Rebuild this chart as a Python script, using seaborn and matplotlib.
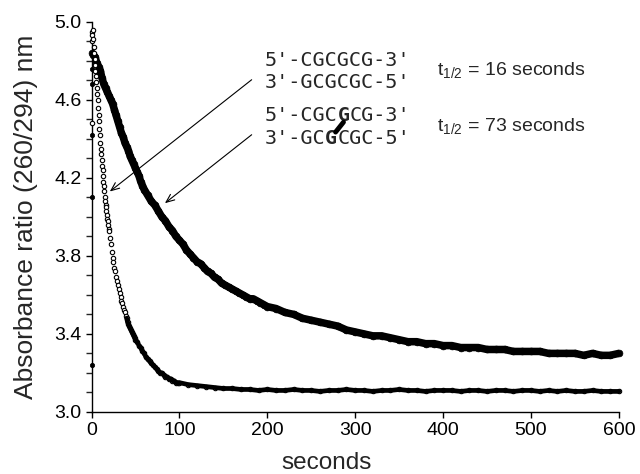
import pandas as pd
import seaborn as sns
import matplotlib.pyplot as plt
from matplotlib.transforms import offset_copy

# 5'-CGCGCG-3' duplex (open circles), t1/2 = 16 s
fast_t = [0.0, 0.5, 1.0, 1.5, 2.0, 2.5, 3.0, 3.5, 4.0, 4.5,
          5.0, 5.5, 6.0, 6.5, 7.0, 7.5, 8.0, 8.5, 9.0, 9.5,
          10.0, 10.5, 11.0, 11.5, 12.0, 12.5, 13.0, 13.5, 14.0, 14.5,
          15.0, 15.5, 16.0, 16.5, 17.0, 17.5, 18.0, 18.5, 19.0, 19.5,
          20, 21, 22, 23, 24, 25, 26, 27, 28, 29,
          30, 31, 32, 33, 34, 35, 36, 37, 38, 39,
          40, 41, 42, 43, 44, 45, 46, 47, 48, 49, 50,
          52, 54, 56, 58, 60, 62, 64, 66, 68, 70,
          72, 74, 76, 78, 80, 82, 84, 86, 88, 90,
          92, 94, 96, 98, 100,
          110, 120, 130, 140, 150, 160, 170, 180, 190, 200,
          210, 220, 230, 240, 250, 260, 270, 280, 290, 300,
          310, 320, 330, 340, 350, 360, 370, 380, 390, 400,
          410, 420, 430, 440, 450, 460, 470, 480, 490, 500,
          510, 520, 530, 540, 550, 560, 570, 580, 590, 600]
fast_a = [4.90, 4.95, 4.93, 4.96, 4.91, 4.87, 4.84, 4.81, 4.78, 4.75,
          4.72, 4.69, 4.66, 4.63, 4.60, 4.56, 4.52, 4.49, 4.45, 4.42,
          4.38, 4.35, 4.32, 4.29, 4.26, 4.24, 4.21, 4.18, 4.16, 4.13,
          4.10, 4.08, 4.06, 4.05, 4.03, 4.01, 3.99, 3.98, 3.96, 3.94,
          3.93, 3.89, 3.86, 3.82, 3.79, 3.77, 3.74, 3.72, 3.69, 3.67,
          3.65, 3.63, 3.61, 3.59, 3.57, 3.56, 3.54, 3.52, 3.51, 3.49,
          3.48, 3.46, 3.45, 3.44, 3.43, 3.42, 3.41, 3.40, 3.39, 3.38, 3.37,
          3.36, 3.34, 3.33, 3.31, 3.30, 3.28, 3.27, 3.26, 3.25, 3.24,
          3.23, 3.22, 3.21, 3.20, 3.20, 3.19, 3.18, 3.18, 3.17, 3.17,
          3.16, 3.16, 3.15, 3.15, 3.15,
          3.14, 3.135, 3.13, 3.125, 3.12, 3.12, 3.115, 3.115, 3.11, 3.115,
          3.11, 3.11, 3.115, 3.11, 3.11, 3.105, 3.11, 3.11, 3.115, 3.11,
          3.11, 3.105, 3.11, 3.11, 3.115, 3.11, 3.11, 3.105, 3.11, 3.11,
          3.11, 3.105, 3.11, 3.11, 3.105, 3.11, 3.11, 3.105, 3.11, 3.11,
          3.105, 3.11, 3.105, 3.11, 3.105, 3.105, 3.11, 3.105, 3.105, 3.105]

# G-G crosslinked duplex (filled circles), t1/2 = 73 s
slow_t = [0, 2, 4, 6, 8, 10, 12, 14, 16, 18,
          20, 22, 24, 26, 28, 30, 32, 34, 36, 38,
          40, 42, 44, 46, 48, 50, 52, 54, 56, 58, 60,
          64, 68, 72, 76, 80, 84, 88, 92, 96, 100,
          104, 108, 112, 116, 120, 124, 128, 132, 136, 140,
          144, 148, 152, 156, 160, 164, 168, 172, 176, 180,
          184, 188, 192, 196, 200,
          210, 220, 230, 240, 250, 260, 270, 280, 290, 300,
          310, 320, 330, 340, 350, 360, 370, 380, 390, 400,
          410, 420, 430, 440, 450, 460, 470, 480, 490, 500,
          510, 520, 530, 540, 550, 560, 570, 580, 590, 600]
slow_a = [4.84, 4.83, 4.82, 4.79, 4.77, 4.75, 4.71, 4.68, 4.66, 4.64,
          4.62, 4.60, 4.58, 4.55, 4.52, 4.49, 4.46, 4.43, 4.41, 4.38,
          4.36, 4.34, 4.31, 4.29, 4.27, 4.25, 4.23, 4.21, 4.18, 4.16, 4.14,
          4.11, 4.08, 4.06, 4.03, 4.00, 3.98, 3.95, 3.93, 3.90, 3.88,
          3.86, 3.83, 3.81, 3.79, 3.77, 3.76, 3.74, 3.72, 3.71, 3.69,
          3.68, 3.66, 3.65, 3.64, 3.63, 3.62, 3.61, 3.60, 3.59, 3.58,
          3.58, 3.57, 3.56, 3.55, 3.54,
          3.53, 3.51, 3.50, 3.48, 3.47, 3.46, 3.45, 3.44, 3.42, 3.41,
          3.40, 3.39, 3.39, 3.38, 3.37, 3.36, 3.36, 3.35, 3.35, 3.34,
          3.34, 3.33, 3.33, 3.33, 3.32, 3.32, 3.32, 3.31, 3.31, 3.31,
          3.31, 3.30, 3.30, 3.30, 3.30, 3.29, 3.30, 3.29, 3.29, 3.30]

# stray readings right at mixing time
stray_filled_t = [0.5, 0.3, 0.8, 0.0, 0.0]
stray_filled_a = [4.76, 4.68, 4.42, 4.10, 3.24]
stray_open_t = [0.6]
stray_open_a = [4.48]

y_ticks = [3.0, 3.4, 3.8, 4.2, 4.6, 5.0]
x_ticks = [0, 100, 200, 300, 400, 500, 600]

sns.set_style('ticks')
plt.rcParams['font.family'] = ['Liberation Sans', 'DejaVu Sans']
plt.rcParams['mathtext.fontset'] = 'custom'
plt.rcParams['mathtext.rm'] = 'Liberation Sans'

fast = pd.DataFrame({'t': fast_t, 'a': fast_a})
slow = pd.DataFrame({'t': slow_t, 'a': slow_a})

fig = plt.figure(figsize=(6.4, 4.74), dpi=100)
ax = fig.add_axes([0.143, 0.131, 0.824, 0.823])

sns.lineplot(data=slow, x='t', y='a', color='black', lw=5.4,
             estimator=None, sort=False, ax=ax)
sns.scatterplot(data=slow, x='t', y='a', color='black', edgecolor='black',
                s=24, linewidth=0.5, ax=ax, clip_on=False, zorder=3)
sns.scatterplot(x=stray_filled_t, y=stray_filled_a, color='black', edgecolor='black',
                s=10, linewidth=0.5, ax=ax, clip_on=False, zorder=3)
sns.scatterplot(data=fast, x='t', y='a', color='white', edgecolor='black',
                s=10, linewidth=0.8, ax=ax, clip_on=False, zorder=3)
sns.scatterplot(x=stray_open_t, y=stray_open_a, color='white', edgecolor='black',
                s=10, linewidth=0.8, ax=ax, clip_on=False, zorder=3)
# where the open circles pile up they read as a solid band
sns.lineplot(data=fast[fast.t >= 40], x='t', y='a', color='black', lw=3.4,
             estimator=None, sort=False, ax=ax, zorder=4, clip_on=False)

ax.set_xlim(0, 600)
ax.set_ylim(3.0, 5.0)
ax.set_xticks(x_ticks)
ax.set_yticks(y_ticks)
ax.set_yticklabels([f'{v:.1f}' for v in y_ticks])
ax.set_yticks([3.0 + 0.1 * i for i in range(21)], minor=True)
ax.tick_params(direction='out', length=4, width=1, labelsize=14, pad=3, colors='black')
ax.tick_params(which='minor', direction='out', length=4, width=1)
sns.despine(ax=ax)
for sp in ax.spines.values():
    sp.set_linewidth(1)
    sp.set_color('black')

ax.set_xlabel('seconds', fontsize=17.5)
ax.set_ylabel('Absorbance ratio (260/294) nm', fontsize=19)
ax.xaxis.set_label_coords(0.446, -0.103)
ax.yaxis.set_label_coords(-0.101, 0.5)

# duplex sequences and half-lives
mono = 'DejaVu Sans Mono'
seq_size = 14.5
cw = 0.602 * seq_size
seq_x = 197


def seq_piece(s, y, col, **kw):
    ax.text(seq_x, y, s, family=mono, fontsize=seq_size, va='baseline',
            transform=offset_copy(ax.transData, fig=fig, x=col * cw, y=0, units='points'), **kw)


seq_piece("5'-CGCGCG-3'", 4.771, 0)
seq_piece("3'-GCGCGC-5'", 4.660, 0)
seq_piece("5'-CGC", 4.489, 0)
seq_piece("G", 4.489, 6, weight='bold')
seq_piece("CG-3'", 4.489, 7)
seq_piece("3'-GC", 4.374, 0)
seq_piece("G", 4.374, 5, weight='bold')
seq_piece("CGC-5'", 4.374, 6)
ax.annotate('', xy=(seq_x, 4.374), xytext=(seq_x, 4.489),
            xycoords=offset_copy(ax.transData, fig=fig, x=5.85 * cw, y=8.5, units='points'),
            textcoords=offset_copy(ax.transData, fig=fig, x=6.5 * cw, y=-0.5, units='points'),
            arrowprops=dict(arrowstyle='-', lw=3.5, color='black', shrinkA=0, shrinkB=0))

ax.text(392.8, 4.723, r't$_{\mathregular{1/2}}$ = 16 seconds', fontsize=14, va='baseline')
ax.text(392.8, 4.437, r't$_{\mathregular{1/2}}$ = 73 seconds', fontsize=14, va='baseline')

arrow = dict(arrowstyle='->,head_length=0.6,head_width=0.25', lw=0.8, color='black',
             shrinkA=0, shrinkB=0)
ax.annotate('', xy=(20.8, 4.130), xytext=(182.2, 4.703), arrowprops=arrow)
ax.annotate('', xy=(83.5, 4.070), xytext=(182.2, 4.421), arrowprops=arrow)

plt.savefig('out.png', dpi=100)
